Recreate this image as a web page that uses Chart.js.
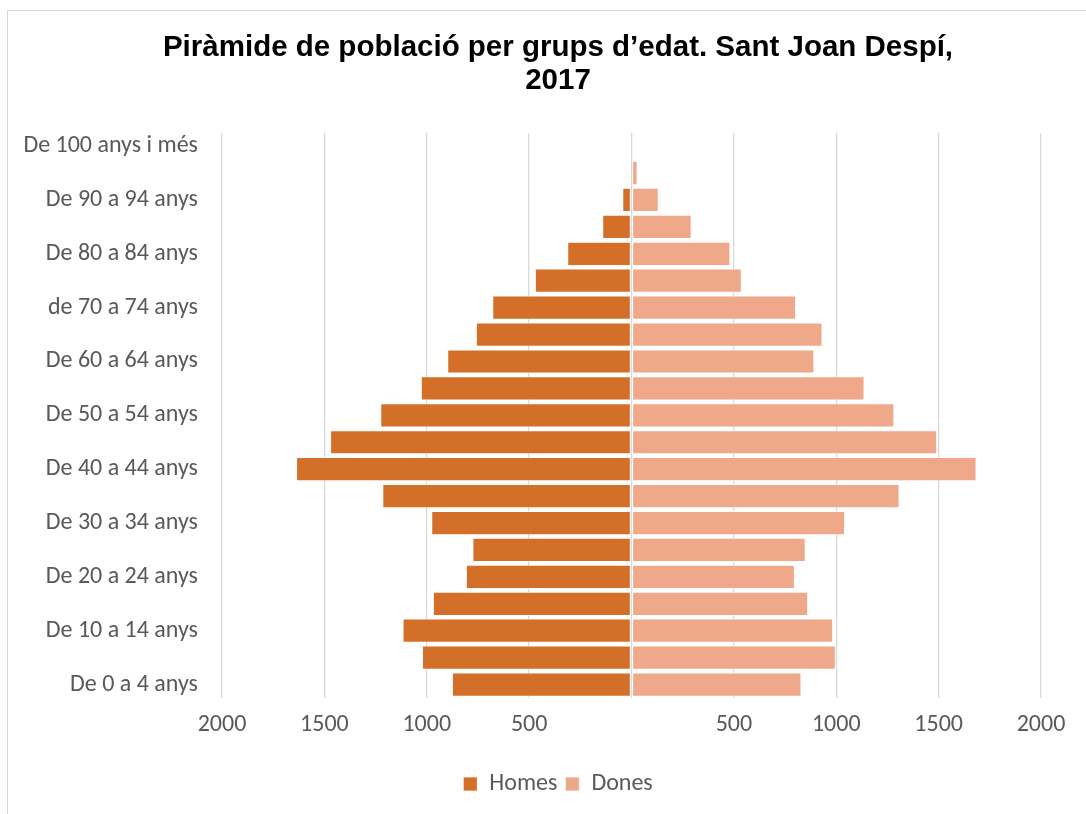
<!DOCTYPE html>
<html>
<head>
<meta charset="utf-8">
<script src="https://cdn.jsdelivr.net/npm/chart.js@4.4.1/dist/chart.umd.min.js"></script>
<style>
  html, body { margin: 0; padding: 0; background: #fff; overflow: hidden; }
  #frame {
    position: absolute; left: 7px; top: 10px;
    width: 1102px; height: 830px;
    border: 1px solid #d9d9d9; box-sizing: border-box;
  }
  #wrap { position: absolute; left: 0; top: 0; width: 1100px; height: 795px; }
</style>
</head>
<body>
<div id="frame">
  <div id="wrap"><canvas id="piramide"></canvas></div>
</div>
<script>
// Grups d'edat (de baix a dalt)
const grups = [
    "De 0 a 4 anys", "De 5 a 9 anys", "De 10 a 14 anys", "De 15 a 19 anys",
    "De 20 a 24 anys", "De 25 a 29 anys", "De 30 a 34 anys", "De 35 a 39 anys",
    "De 40 a 44 anys", "De 45 a 49 anys", "De 50 a 54 anys", "De 55 a 59 anys",
    "De 60 a 64 anys", "De 65 a 69 anys", "de 70 a 74 anys", "De 75 a 79 anys",
    "De 80 a 84 anys", "De 85 a 89 anys", "De 90 a 94 anys", "De 95 a 99 anys",
    "De 100 anys i més"
];

// Població per sexe
const homes = [877, 1023, 1118, 970, 809, 777, 978, 1217, 1638, 1472, 1227,
               1029, 900, 760, 680, 472, 314, 143, 45, 6, 1];
const dones = [830, 998, 985, 863, 798, 851, 1043, 1309, 1685, 1493, 1284,
               1138, 893, 933, 804, 539, 483, 294, 133, 30, 3];

const eixMin = -2000;
const eixMax = 2000;
const pas = 500;

const colorHomes = "#D46F2A";
const colorDones = "#F0A88B";
const grisText = "#595959";
const font = "Calibri, Carlito, 'Liberation Sans', Arial, sans-serif";

let ctx = document.getElementById("piramide").getContext("2d");

new Chart(ctx, {
    type: "bar",
    data: {
        labels: grups,
        datasets: [
            {
                label: "Homes",
                data: homes.map(v => -v),
                backgroundColor: colorHomes,
                borderColor: "rgba(255,255,255,0.7)",
                borderWidth: 1,
                borderSkipped: false
            },
            {
                label: "Dones",
                data: dones,
                backgroundColor: colorDones,
                borderColor: "rgba(255,255,255,0.7)",
                borderWidth: 1,
                borderSkipped: false
            }
        ]
    },
    options: {
        indexAxis: "y",
        responsive: true,
        maintainAspectRatio: false,
        animation: false,
        categoryPercentage: 0.9,
        barPercentage: 1.0,
        layout: { padding: 0 },
        scales: {
            x: {
                stacked: true,
                min: eixMin,
                max: eixMax,
                afterFit: scale => { scale.height = 66; },
                ticks: {
                    stepSize: pas,
                    color: grisText,
                    font: { family: font, size: 24 },
                    padding: 13,
                    callback: v => (v === 0 ? "" : Math.abs(v))
                },
                grid: { color: "#d9d9d9", lineWidth: 1.3, drawTicks: false },
                border: { display: false }
            },
            y: {
                stacked: true,
                reverse: true,
                afterFit: scale => { scale.width = 214; },
                ticks: {
                    autoSkip: false,
                    color: grisText,
                    font: { family: font, size: 24 },
                    padding: 16,
                    callback: function (v, i) {
                        return i % 2 === 0 ? this.getLabelForValue(v) : "";
                    }
                },
                grid: { display: false },
                border: { display: false }
            },
            // eix buit a la dreta, només per deixar marge
            marge: {
                type: "linear",
                position: "right",
                afterFit: scale => { scale.width = 67; },
                ticks: { display: false },
                grid: { display: false },
                border: { display: false }
            }
        },
        plugins: {
            title: {
                display: true,
                text: ["Piràmide de població per grups d’edat. Sant Joan Despí,", "2017"],
                color: "#000",
                font: { family: "'Liberation Sans', Arial, sans-serif", size: 29.5, weight: "bold", lineHeight: 1.13 },
                padding: { top: 20, bottom: 35 }
            },
            legend: {
                position: "bottom",
                labels: {
                    color: grisText,
                    font: { family: font, size: 24 },
                    boxWidth: 14,
                    boxHeight: 14,
                    padding: 8
                }
            },
            tooltip: { enabled: false }
        }
    }
});
</script>
</body>
</html>
